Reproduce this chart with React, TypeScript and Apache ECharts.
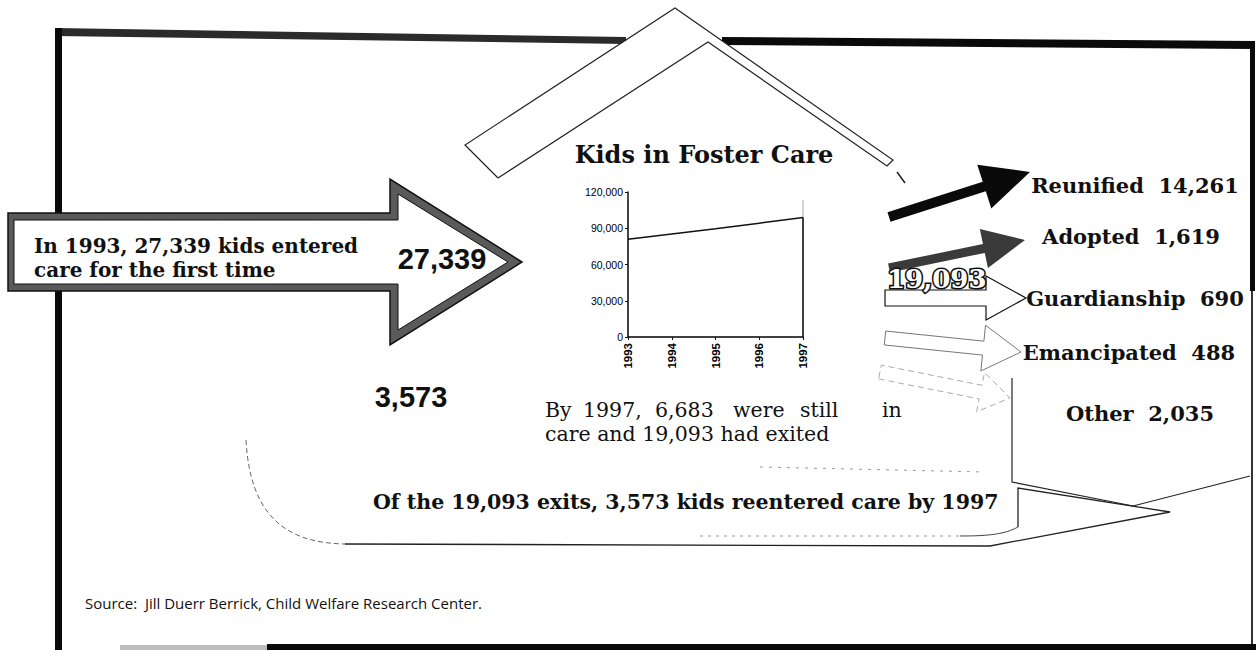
import React, { useEffect, useRef } from "react";
import * as echarts from "echarts";

// ---- data ----
const years = ["1993", "1994", "1995", "1996", "1997"];
const kidsInCare = [80800, 85300, 89600, 94200, 98900];
const yMin = 0;
const yMax = 120000;
const yInterval = 30000;
const exitCategories = ["Reunified", "Adopted", "Guardianship", "Emancipated", "Other"];
const exitCounts = [14261, 1619, 690, 488, 2035];
const entered1993 = 27339;
const stillInCare1997 = 6683;
const exitedBy1997 = 19093;
const reenteredBy1997 = 3573;

const fmt = (n: number) => n.toLocaleString("en-US");

const SERIF = '"DejaVu Serif", serif';
const SANS = '"Liberation Sans", Arial, sans-serif';

function arrowPts(x0: number, y0: number, x1: number, y1: number, sw: number, hl: number, hw: number) {
  const dx = x1 - x0, dy = y1 - y0;
  const L = Math.hypot(dx, dy);
  const ux = dx / L, uy = dy / L, nx = -uy, ny = ux;
  const bx = x1 - ux * hl, by = y1 - uy * hl;
  return [
    [x0 + (nx * sw) / 2, y0 + (ny * sw) / 2],
    [bx + (nx * sw) / 2, by + (ny * sw) / 2],
    [bx + (nx * hw) / 2, by + (ny * hw) / 2],
    [x1, y1],
    [bx - (nx * hw) / 2, by - (ny * hw) / 2],
    [bx - (nx * sw) / 2, by - (ny * sw) / 2],
    [x0 - (nx * sw) / 2, y0 - (ny * sw) / 2],
  ];
}

export default function App() {
  const ref = useRef<HTMLDivElement>(null);
  useEffect(() => {
    document.body.style.margin = "0";
    const chart = echarts.init(ref.current!, null, { renderer: "svg" });

    const labelPos = [
      [1135, 185],
      [1131, 236],
      [1135, 298],
      [1129, 352],
      [1140, 413],
    ];
    const exitLabels = exitCategories.map((c, i) => ({
      type: "text",
      style: {
        text: `${c}  ${fmt(exitCounts[i])}`,
        x: labelPos[i][0],
        y: labelPos[i][1],
        font: `bold 21px ${SERIF}`,
        fill: "#111",
        textAlign: "center",
        textVerticalAlign: "middle",
      },
    }));

    const line1Words = ["By", "1997,", `${fmt(stillInCare1997)}`, "were", "still", "in"];
    const line1X = [545, 583, 655, 733, 800, 882];
    const line1 = line1Words.map((w, i) => ({
      type: "text",
      style: { text: w, x: line1X[i], y: 410, font: `20.5px ${SERIF}`, fill: "#111", textVerticalAlign: "middle" },
    }));

    const n19 = fmt(exitedBy1997);

    const graphic: any[] = [
      // frame
      { type: "polygon", shape: { points: [[55, 28], [626, 37], [626, 44], [55, 36]] }, style: { fill: "#2b2b2b" } },
      { type: "polygon", shape: { points: [[722, 37], [1254, 41], [1254, 49], [722, 45]] }, style: { fill: "#0a0a0a" } },
      { type: "rect", shape: { x: 55, y: 28, width: 7, height: 622 }, style: { fill: "#0a0a0a" } },
      { type: "rect", shape: { x: 1250, y: 41, width: 5, height: 250 }, style: { fill: "#0a0a0a" } },
      { type: "rect", shape: { x: 1251, y: 291, width: 2, height: 359 }, style: { fill: "#333" } },
      { type: "rect", shape: { x: 120, y: 645, width: 147, height: 5 }, style: { fill: "#bdbdbd" } },
      { type: "rect", shape: { x: 267, y: 644, width: 989, height: 6 }, style: { fill: "#0a0a0a" } },

      // house roof
      { type: "polygon", shape: { points: [[465, 145], [675, 8], [893, 160], [893, 200], [498, 200]] }, style: { fill: "#fff" } },
      { type: "polyline", shape: { points: [[498, 178], [465, 145], [675, 8], [893, 160], [887, 166], [708, 42], [498, 178]] }, style: { stroke: "#222", lineWidth: 1.2, fill: "none" } },
      { type: "line", shape: { x1: 897, y1: 172, x2: 905, y2: 183 }, style: { stroke: "#222", lineWidth: 1.5 } },

      // left entry arrow
      {
        type: "polygon",
        shape: { points: [[8, 213], [390, 213], [390, 179], [522, 262], [390, 345], [390, 291], [8, 291]] },
        style: { fill: "#5a5a5a", stroke: "#111", lineWidth: 1.5 },
      },
      {
        type: "polygon",
        shape: { points: [[14, 220], [398, 220], [398, 194], [508, 262], [398, 330], [398, 284], [14, 284]] },
        style: { fill: "#fff", stroke: "#111", lineWidth: 1 },
      },
      { type: "text", style: { text: `In 1993, ${fmt(entered1993)} kids entered`, x: 34, y: 246, font: `bold 20px ${SERIF}`, fill: "#111", textVerticalAlign: "middle" } },
      { type: "text", style: { text: "care for the first time", x: 34, y: 270, font: `bold 20px ${SERIF}`, fill: "#111", textVerticalAlign: "middle" } },
      { type: "text", style: { text: fmt(entered1993), x: 442, y: 259, font: `bold 29px ${SANS}`, fill: "#111", textAlign: "center", textVerticalAlign: "middle" } },

      // title
      { type: "text", style: { text: "Kids in Foster Care", x: 704, y: 154, font: `bold 24px ${SERIF}`, fill: "#111", textAlign: "center", textVerticalAlign: "middle" } },

      // exit arrows
      { type: "polygon", shape: { points: arrowPts(889, 217, 1030, 172, 10, 48, 46) }, style: { fill: "#0a0a0a" } },
      { type: "polygon", shape: { points: arrowPts(889, 268, 1025, 240, 9, 42, 40) }, style: { fill: "#3a3a3a" } },
      { type: "polygon", shape: { points: arrowPts(885, 298, 1026, 298, 16, 40, 44) }, style: { fill: "#fff", stroke: "#111", lineWidth: 1.2 } },
      { type: "polygon", shape: { points: arrowPts(885, 338, 1021, 352, 14, 38, 46) }, style: { fill: "#fff", stroke: "#777", lineWidth: 1 } },
      { type: "polygon", shape: { points: arrowPts(880, 372, 1010, 398, 14, 30, 40) }, style: { fill: "none", stroke: "#aaa", lineWidth: 1, lineDash: [6, 4] } },
      { type: "text", style: { text: n19, x: 887, y: 279, font: `bold 26px ${SERIF}`, fill: "#111", stroke: "#111", lineWidth: 3.2, textVerticalAlign: "middle" } },
      { type: "text", style: { text: n19, x: 887, y: 279, font: `bold 26px ${SERIF}`, fill: "#fff", textVerticalAlign: "middle" } },
      ...exitLabels,

      // Other box
      { type: "polyline", shape: { points: [[1012, 378], [1012, 482], [1133, 506], [1250, 476]] }, style: { stroke: "#222", lineWidth: 1.2, fill: "none" } },

      // middle text
      ...line1,
      { type: "text", style: { text: `care and ${n19} had exited`, x: 545, y: 434, font: `20.5px ${SERIF}`, fill: "#111", textVerticalAlign: "middle" } },
      { type: "text", style: { text: fmt(reenteredBy1997), x: 411, y: 397, font: `bold 29px ${SANS}`, fill: "#111", textAlign: "center", textVerticalAlign: "middle" } },

      // return arrow
      { type: "bezierCurve", shape: { x1: 246, y1: 440, cpx1: 250, cpy1: 515, cpx2: 285, cpy2: 543, x2: 345, y2: 544 }, style: { stroke: "#666", lineWidth: 1, lineDash: [5, 3], fill: "none" } },
      { type: "polyline", shape: { points: [[345, 544], [990, 546], [1170, 512], [1018, 488], [1018, 527]] }, style: { stroke: "#222", lineWidth: 1.3, fill: "none" } },
      { type: "bezierCurve", shape: { x1: 1018, y1: 527, cpx1: 1005, cpy1: 534, cpx2: 990, cpy2: 536, x2: 960, y2: 536 }, style: { stroke: "#444", lineWidth: 1, fill: "none" } },
      { type: "line", shape: { x1: 700, y1: 536, x2: 960, y2: 536 }, style: { stroke: "#999", lineWidth: 1, lineDash: [3, 5] } },
      { type: "line", shape: { x1: 760, y1: 467, x2: 985, y2: 472 }, style: { stroke: "#999", lineWidth: 1, lineDash: [3, 6] } },
      { type: "text", style: { text: `Of the ${n19} exits, ${fmt(reenteredBy1997)} kids reentered care by 1997`, x: 373, y: 502, font: `bold 20.5px ${SERIF}`, fill: "#111", textVerticalAlign: "middle" } },

      // source
      { type: "text", style: { text: "Source:  Jill Duerr Berrick, Child Welfare Research Center.", x: 85, y: 603, font: `15px "Open Sans", sans-serif`, fill: "#111", textVerticalAlign: "middle" } },
    ];

    chart.setOption({
      animation: false,
      backgroundColor: "#fff",
      grid: {
        left: 628,
        top: 192,
        width: 175,
        height: 145,
        show: true,
        borderColor: "#aaa",
        borderWidth: 1,
        outerBoundsMode: "none",
      },
      xAxis: {
        type: "category",
        data: years,
        boundaryGap: false,
        axisLine: { lineStyle: { color: "#111", width: 1.5 } },
        axisTick: { show: true, length: 3, lineStyle: { color: "#111" } },
        axisLabel: { rotate: 90, fontSize: 11.5, color: "#000", fontFamily: "Liberation Sans", fontWeight: "bold", margin: 6 },
        splitLine: { show: false },
      },
      yAxis: {
        type: "value",
        min: yMin,
        max: yMax,
        interval: yInterval,
        axisLine: { show: true, lineStyle: { color: "#111", width: 1.5 } },
        axisTick: { show: true, length: 3, lineStyle: { color: "#111" } },
        axisLabel: { formatter: (v: number) => fmt(v), fontSize: 10.5, color: "#000", margin: 5, fontFamily: "Liberation Sans" },
        splitLine: { show: false },
      },
      series: [
        {
          type: "line",
          data: kidsInCare,
          symbol: "none",
          lineStyle: { color: "#111", width: 1.5 },
          markLine: {
            silent: true,
            symbol: "none",
            label: { show: false },
            lineStyle: { color: "#111", type: "solid", width: 1.5 },
            data: [[{ coord: [years.length - 1, 0] }, { coord: [years.length - 1, kidsInCare[kidsInCare.length - 1]] }]],
          },
        },
      ],
      graphic,
    });
    return () => chart.dispose();
  }, []);
  return <div ref={ref} style={{ width: 1256, height: 650 }} />;
}
